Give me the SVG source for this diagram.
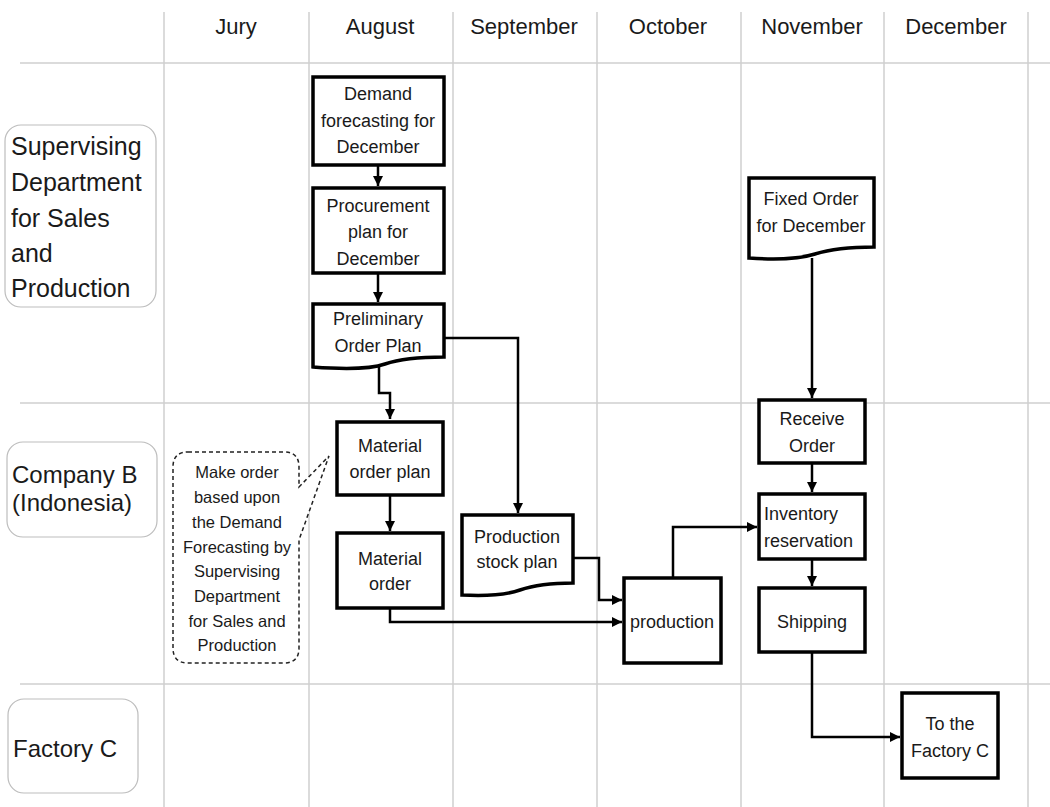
<svg xmlns="http://www.w3.org/2000/svg" width="1050" height="807" viewBox="0 0 1050 807">
<style>
.grid{stroke:#cfcfcf;stroke-width:1.5;fill:none}
.lane{fill:#fff;stroke:#bdbdbd;stroke-width:1.2}
.lt{font-family:"Liberation Sans",Arial,sans-serif;font-size:24px;fill:#1a1a1a}
.hd{font-family:"Liberation Sans",Arial,sans-serif;font-size:22px;fill:#1a1a1a;text-anchor:middle}
.box{fill:#fff;stroke:#000;stroke-width:3.5}
.t{font-family:"Liberation Sans",Arial,sans-serif;font-size:18px;fill:#1a1a1a;text-anchor:middle}
.ts{font-family:"Liberation Sans",Arial,sans-serif;font-size:18px;fill:#1a1a1a}
.ct{font-family:"Liberation Sans",Arial,sans-serif;font-size:16.5px;fill:#1a1a1a;text-anchor:middle}
.con{fill:none;stroke:#000;stroke-width:2.5}
.call{fill:#fff;stroke:#222;stroke-width:1.5;stroke-dasharray:4 3}
</style>
<defs>
<marker id="ah" markerUnits="userSpaceOnUse" markerWidth="12" markerHeight="12" refX="10" refY="5" orient="auto">
<path d="M0,0 L10,5 L0,10 Z" fill="#000"/>
</marker>
</defs>
<rect width="1050" height="807" fill="#fff"/>
<g id="grid">
<line class="grid" x1="20" y1="63" x2="1050" y2="63"/>
<line class="grid" x1="20" y1="403" x2="1050" y2="403"/>
<line class="grid" x1="20" y1="684" x2="1050" y2="684"/>
<line class="grid" x1="164" y1="12" x2="164" y2="807"/>
<line class="grid" x1="309" y1="12" x2="309" y2="807"/>
<line class="grid" x1="453" y1="12" x2="453" y2="807"/>
<line class="grid" x1="597" y1="12" x2="597" y2="807"/>
<line class="grid" x1="741" y1="12" x2="741" y2="807"/>
<line class="grid" x1="884" y1="12" x2="884" y2="807"/>
<line class="grid" x1="1028" y1="12" x2="1028" y2="807"/>
</g>
<g id="headers">
<text class="hd" x="236" y="34">Jury</text>
<text class="hd" x="380" y="34">August</text>
<text class="hd" x="524" y="34">September</text>
<text class="hd" x="668" y="34">October</text>
<text class="hd" x="812" y="34">November</text>
<text class="hd" x="956" y="34">December</text>
</g>
<g id="lane-supervising">
<rect class="lane" x="5" y="125" width="151" height="182" rx="16"/>
<text class="lt" x="11" y="155" style="font-size:25px">Supervising</text>
<text class="lt" x="11" y="191" style="font-size:25px">Department</text>
<text class="lt" x="11" y="227" style="font-size:25px">for Sales</text>
<text class="lt" x="11" y="262" style="font-size:25px">and</text>
<text class="lt" x="11" y="297" style="font-size:25px">Production</text>
</g>
<g id="lane-companyb">
<rect class="lane" x="7" y="442" width="150" height="95" rx="16"/>
<text class="lt" x="12" y="483">Company B</text>
<text class="lt" x="12" y="511">(Indonesia)</text>
</g>
<g id="lane-factoryc">
<rect class="lane" x="8" y="699" width="130" height="94" rx="16"/>
<text class="lt" x="13" y="757">Factory C</text>
</g>
<g id="connectors">
<line class="con" x1="378" y1="165" x2="378" y2="186" marker-end="url(#ah)"/>
<line class="con" x1="378" y1="273" x2="378" y2="302" marker-end="url(#ah)"/>
<polyline class="con" points="379,366 379,393 390,393 390,419" marker-end="url(#ah)"/>
<polyline class="con" points="444,338 518,338 518,513" marker-end="url(#ah)"/>
<line class="con" x1="390" y1="495" x2="390" y2="531" marker-end="url(#ah)"/>
<polyline class="con" points="390,608 390,622 622,622" marker-end="url(#ah)"/>
<polyline class="con" points="573,558 599,558 599,600 622,600" marker-end="url(#ah)"/>
<polyline class="con" points="673,578 673,527 757,527" marker-end="url(#ah)"/>
<line class="con" x1="812" y1="258" x2="812" y2="398" marker-end="url(#ah)"/>
<line class="con" x1="812" y1="463" x2="812" y2="492" marker-end="url(#ah)"/>
<line class="con" x1="812" y1="559" x2="812" y2="586" marker-end="url(#ah)"/>
<polyline class="con" points="812,652 812,737 900,737" marker-end="url(#ah)"/>
</g>
<g id="n-demand">
<rect class="box" x="313" y="77" width="131" height="88"/>
<text class="t" x="378" y="100">Demand</text>
<text class="t" x="378" y="127">forecasting for</text>
<text class="t" x="378" y="153">December</text>
</g>
<g id="n-procurement">
<rect class="box" x="313" y="188" width="131" height="85"/>
<text class="t" x="378" y="212">Procurement</text>
<text class="t" x="378" y="238">plan for</text>
<text class="t" x="378" y="265">December</text>
</g>
<g id="n-preliminary">
<path class="box" d="M313,304 H444 V357 Q405,357 385,364 T313,367 Z"/>
<text class="t" x="378" y="325">Preliminary</text>
<text class="t" x="378" y="352">Order Plan</text>
</g>
<g id="n-material-order-plan">
<rect class="box" x="337" y="422" width="106" height="73"/>
<text class="t" x="390" y="452">Material</text>
<text class="t" x="390" y="478">order plan</text>
</g>
<g id="n-material-order">
<rect class="box" x="337" y="533" width="106" height="75"/>
<text class="t" x="390" y="565">Material</text>
<text class="t" x="390" y="590">order</text>
</g>
<g id="n-callout">
<path class="call" d="M188,452 H284 Q299,452 299,467 V487 L329,456 L299,540 V648 Q299,663 284,663 H188 Q173,663 173,648 V467 Q173,452 188,452 Z"/>
<text class="ct" x="237" y="478">Make order</text>
<text class="ct" x="237" y="503">based upon</text>
<text class="ct" x="237" y="528">the Demand</text>
<text class="ct" x="237" y="553">Forecasting by</text>
<text class="ct" x="237" y="577">Supervising</text>
<text class="ct" x="237" y="602">Department</text>
<text class="ct" x="237" y="627">for Sales and</text>
<text class="ct" x="237" y="651">Production</text>
</g>
<g id="n-production-stock-plan">
<path class="box" d="M462,515 H573 V583 Q540,583 520,590 T462,595 Z"/>
<text class="t" x="517" y="543">Production</text>
<text class="t" x="517" y="568">stock plan</text>
</g>
<g id="n-production">
<rect class="box" x="624" y="578" width="97" height="85"/>
<text class="t" x="672" y="628">production</text>
</g>
<g id="n-fixed-order">
<path class="box" d="M749,178 H874 V247 Q837,247 815,254 T749,258 Z"/>
<text class="t" x="811" y="205">Fixed Order</text>
<text class="t" x="811" y="232">for December</text>
</g>
<g id="n-receive">
<rect class="box" x="759" y="400" width="106" height="63"/>
<text class="t" x="812" y="425">Receive</text>
<text class="t" x="812" y="452">Order</text>
</g>
<g id="n-inventory">
<rect class="box" x="759" y="494" width="106" height="65"/>
<text class="ts" x="764" y="520">Inventory</text>
<text class="ts" x="764" y="547">reservation</text>
</g>
<g id="n-shipping">
<rect class="box" x="759" y="588" width="106" height="64"/>
<text class="t" x="812" y="628">Shipping</text>
</g>
<g id="n-factory">
<rect class="box" x="902" y="693" width="96" height="85"/>
<text class="t" x="950" y="730">To the</text>
<text class="t" x="950" y="757">Factory C</text>
</g>
</svg>
